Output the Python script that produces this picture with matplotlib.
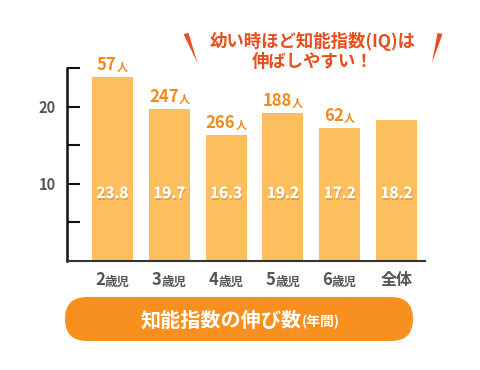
# -*- coding: utf-8 -*-
import matplotlib
matplotlib.use('Agg')
import matplotlib.pyplot as plt
import matplotlib.patheffects as pe
from matplotlib.patches import FancyBboxPatch, Polygon
from matplotlib.ticker import FixedLocator

plt.rcParams['font.family'] = ['Noto Sans CJK JP', 'DejaVu Sans']

# data
ages = ['2', '3', '4', '5', '6']
age_suffix = '歳児'
categories = ages + ['全体']
iq_gain = [23.8, 19.7, 16.3, 19.2, 17.2, 18.2]
counts = [57, 247, 266, 188, 62]          # no count shown for 全体
title_lines = ['幼い時ほど知能指数(IQ)は', '伸ばしやすい！']
caption_main = '知能指数の伸び数'
caption_sub = '(年間)'

BAR = '#FDBF5E'
ORANGE = '#F08A1C'
RED = '#E84E1B'
GRAY = '#555555'

fig = plt.figure(figsize=(4.8, 3.7), dpi=100)
fig.set_facecolor('white')

ax = fig.add_axes([67/480, 109/370, 358/480, 193/370])
ax.patch.set_alpha(0)
x = list(range(len(categories)))
bars = ax.bar(x, iq_gain, width=0.72, color=BAR, zorder=2)
ax.set_xlim(-0.80, 5.50)
ax.set_ylim(0, 25)

for s in ['top', 'right']:
    ax.spines[s].set_visible(False)
ax.spines['left'].set_color('#111111')
ax.spines['left'].set_linewidth(1.8)
ax.spines['bottom'].set_color('#333333')
ax.spines['bottom'].set_linewidth(1.5)

ax.yaxis.set_major_locator(FixedLocator([10, 20]))
ax.yaxis.set_minor_locator(FixedLocator([5, 15, 25]))
ax.tick_params(axis='y', which='both', direction='in', length=9, width=1.5,
               color='#111111', labelsize=10.5, labelcolor=GRAY, pad=8)
for lbl in ax.get_yticklabels():
    lbl.set_fontweight('bold')
ax.set_xticks([])

# values inside the bars
for i, v in enumerate(iq_gain):
    ax.text(i, 8.8, f'{v:.1f}', ha='center', va='center', color='white',
            fontsize=11, fontweight='bold', zorder=3,
            path_effects=[pe.withSimplePatchShadow(offset=(0.6, -1.4),
                                                  shadow_rgbFace='#C0702A',
                                                  alpha=0.45),
                          pe.Normal()])

# counts above the bars
for i, n in enumerate(counts):
    num = ax.annotate(str(n), xy=(i, iq_gain[i]), xytext=(-4, 5),
                      textcoords='offset points', ha='center', va='baseline',
                      fontsize=12, fontweight='bold', color=ORANGE,
                      annotation_clip=False)
    ax.annotate('人', xy=(1, 0), xycoords=num, ha='left', va='bottom',
                fontsize=8, fontweight='bold', color=ORANGE)

# category labels
for i, cat in enumerate(categories):
    if cat in ages:
        num = ax.annotate(cat, xy=(i, 0), xycoords=('data', 'axes fraction'),
                          xytext=(-5.5, -17.5), textcoords='offset points',
                          ha='right', va='baseline', fontsize=12,
                          fontweight='bold', color=GRAY)
        ax.annotate(age_suffix, xy=(1, 0), xycoords=num, ha='left',
                    va='bottom', fontsize=9, fontweight='bold', color=GRAY)
    else:
        ax.annotate(cat, xy=(i, 0), xycoords=('data', 'axes fraction'),
                    xytext=(0, -17.5), textcoords='offset points',
                    ha='center', va='baseline', fontsize=11.5,
                    fontweight='bold', color=GRAY)

# overlay in pixel coordinates for title, slashes and caption pill
ov = fig.add_axes([0, 0, 1, 1], zorder=3)
ov.set_xlim(0, 480)
ov.set_ylim(370, 0)
ov.axis('off')
ov.patch.set_alpha(0)

ov.text(313, 41, title_lines[0], ha='center', va='center', fontsize=12.5,
        fontweight='bold', color=RED)
ov.text(313, 62, title_lines[1], ha='center', va='center', fontsize=12.5,
        fontweight='bold', color=RED)
ov.add_patch(Polygon([(183.5, 34), (188.5, 33), (197.5, 63)], closed=True,
                     fc=RED, ec='none'))
ov.add_patch(Polygon([(437.5, 33), (442.5, 34), (432, 63)], closed=True,
                     fc=RED, ec='none'))

ov.add_patch(FancyBboxPatch((65, 297), 348, 44,
                            boxstyle='round,pad=0,rounding_size=22',
                            fc='#F7901E', ec='none'))
ov.text(302, 326, caption_main, ha='right', va='baseline', fontsize=14.5,
        fontweight='bold', color='white')
ov.text(302, 326, caption_sub, ha='left', va='baseline', fontsize=10,
        fontweight='bold', color='white')

fig.savefig('out.png', dpi=100)
plt.close(fig)
